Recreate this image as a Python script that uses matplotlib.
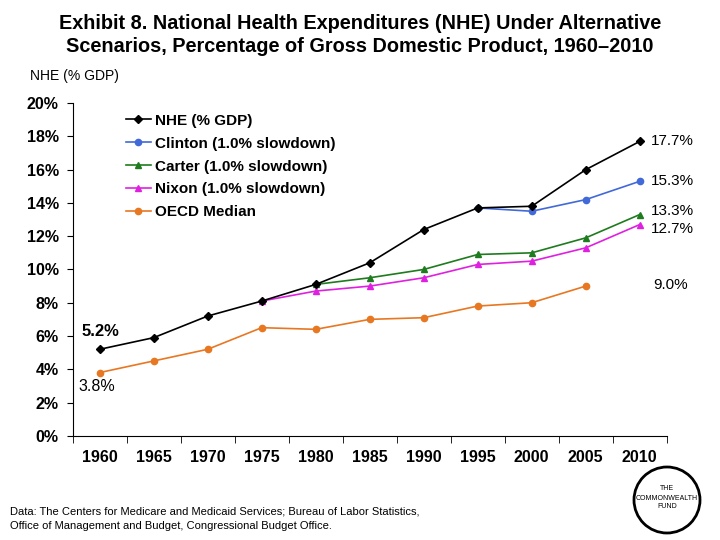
import numpy as np
import matplotlib
matplotlib.use("Agg")
import matplotlib.pyplot as plt
from matplotlib.patches import Ellipse

plt.rcParams['font.family'] = ['Liberation Sans', 'DejaVu Sans']

years = ['1960', '1965', '1970', '1975', '1980', '1985', '1990', '1995', '2000', '2005', '2010']
nan = np.nan
nhe = [5.2, 5.9, 7.2, 8.1, 9.1, 10.4, 12.4, 13.7, 13.8, 16.0, 17.7]
clinton = [nan, nan, nan, nan, nan, nan, nan, 13.7, 13.5, 14.2, 15.3]
carter = [nan, nan, nan, nan, 9.1, 9.5, 10.0, 10.9, 11.0, 11.9, 13.3]
nixon = [nan, nan, nan, 8.1, 8.7, 9.0, 9.5, 10.3, 10.5, 11.3, 12.7]
oecd = [3.8, 4.5, 5.2, 6.5, 6.4, 7.0, 7.1, 7.8, 8.0, 9.0, nan]

yticks = [0, 2, 4, 6, 8, 10, 12, 14, 16, 18, 20]
ytick_labels = [f"{v}%" for v in yticks]

fig = plt.figure(figsize=(7.2, 5.4), dpi=100)
ax = fig.add_axes([0.101, 0.193, 0.825, 0.616])
x = np.arange(len(years))

ax.plot(x, oecd, color='#E87722', marker='o', ms=4.5, lw=1.2, label='OECD Median', zorder=2)
ax.plot(x, nixon, color='#E020E0', marker='^', ms=5, lw=1.2, label='Nixon (1.0% slowdown)', zorder=3)
ax.plot(x, carter, color='#1E7B1E', marker='^', ms=5, lw=1.2, label='Carter (1.0% slowdown)', zorder=4)
ax.plot(x, clinton, color='#4169D8', marker='o', ms=4.5, lw=1.2, label='Clinton (1.0% slowdown)', zorder=5)
ax.plot(x, nhe, color='black', marker='D', ms=4, lw=1.2, label='NHE (% GDP)', zorder=6)

ax.set_xlim(-0.5, 10.5)
ax.set_ylim(0, 20)
ax.set_yticks(yticks)
ax.set_yticklabels(ytick_labels, fontsize=11.5, fontweight='bold')
ax.set_xticks(x)
ax.set_xticklabels(years, fontsize=11.5, fontweight='bold')
ax.set_xticks(np.arange(-0.5, 11, 1), minor=True)
ax.tick_params(axis='x', which='major', length=0, pad=10)
ax.tick_params(axis='x', which='minor', length=5, direction='out')
ax.tick_params(axis='y', length=4, direction='out', pad=6)
ax.spines['top'].set_visible(False)
ax.spines['right'].set_visible(False)

handles, labels = ax.get_legend_handles_labels()
order = [4, 3, 2, 1, 0]
leg = ax.legend([handles[i] for i in order], [labels[i] for i in order],
                loc='upper left', bbox_to_anchor=(0.072, 1.0), frameon=False,
                prop={'weight': 'bold', 'size': 11}, handlelength=1.6,
                handletextpad=0.3, labelspacing=0.58, borderaxespad=0.3)

# value labels
ax.annotate('17.7%', (10, nhe[10]), xytext=(8, 0), textcoords='offset points', va='center', fontsize=11)
ax.annotate('15.3%', (10, clinton[10]), xytext=(8, 0), textcoords='offset points', va='center', fontsize=11)
ax.annotate('13.3%', (10, carter[10]), xytext=(8, 2.5), textcoords='offset points', va='center', fontsize=11)
ax.annotate('12.7%', (10, nixon[10]), xytext=(8, -3), textcoords='offset points', va='center', fontsize=11)
ax.annotate('9.0%', (10, oecd[9]), xytext=(10, 1), textcoords='offset points', va='center', fontsize=11)
ax.annotate('5.2%', (0, nhe[0]), xytext=(-13, 13), textcoords='offset points', va='center', fontsize=12, fontweight='bold')
ax.annotate('3.8%', (0, oecd[0]), xytext=(-15, -10), textcoords='offset points', va='center', fontsize=11.5)

fig.text(0.5, 0.935, 'Exhibit 8. National Health Expenditures (NHE) Under Alternative\nScenarios, Percentage of Gross Domestic Product, 1960\u20132010',
         ha='center', va='center', fontsize=14.3, fontweight='bold', linespacing=1.25)
fig.text(0.042, 0.859, 'NHE (% GDP)', ha='left', va='center', fontsize=10)
fig.text(0.014, 0.039, 'Data: The Centers for Medicare and Medicaid Services; Bureau of Labor Statistics,\nOffice of Management and Budget, Congressional Budget Office.',
         ha='left', va='center', fontsize=8, linespacing=1.5)

ell = Ellipse((667 / 720, 1 - 500 / 540), 66 / 720, 66 / 540, transform=fig.transFigure, fill=False, lw=2, ec='black')
fig.patches.append(ell)
fig.text(667 / 720, 1 - 498 / 540, 'THE\nCOMMONWEALTH\nFUND', ha='center', va='center', fontsize=5, linespacing=1.4)

fig.savefig('out.png', dpi=100)
